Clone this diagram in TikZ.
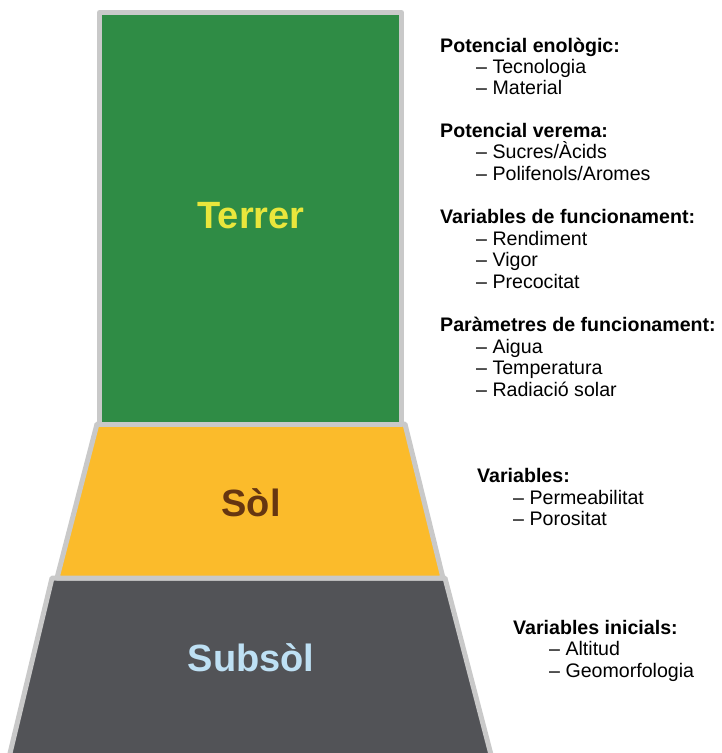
\documentclass[tikz,border=0pt]{standalone}
\usepackage{fontspec}
\setmainfont{Liberation Sans}
\definecolor{terrergreen}{HTML}{2F8C45}
\definecolor{solyellow}{HTML}{FBBB2B}
\definecolor{subsolgray}{HTML}{525357}
\definecolor{edgegray}{HTML}{C9C9C9}
\definecolor{terrertext}{HTML}{E9E63C}
\definecolor{soltext}{HTML}{663611}
\definecolor{subsoltext}{HTML}{BEE0F4}
\tikzset{
  layer/.style={draw=edgegray, line width=5pt, line join=round},
  bigname/.style={font=\fontsize{38}{42}\selectfont\bfseries, anchor=center},
  head/.style={font=\fontsize{19.6}{22}\selectfont\bfseries, anchor=base west, inner sep=0pt},
  item/.style={font=\fontsize{19.6}{22}\selectfont, anchor=base west, inner sep=0pt},
}
\begin{document}
\begin{tikzpicture}[x=1pt,y=-1pt]
\useasboundingbox (0,0) rectangle (721,753);
\begin{scope}
\clip (0,0) rectangle (721,753);
% bottom layer
\draw[layer, fill=subsolgray] (52,578) -- (445,578) -- (495,770) -- (6,770) -- cycle;
% middle layer
\draw[layer, fill=solyellow] (97,424) -- (405,424) -- (443,578) -- (57,578) -- cycle;
% top layer
\draw[layer, fill=terrergreen] (99.5,12.5) rectangle (401.5,424);
\end{scope}

\node[bigname, text=terrertext] (terrer) at (251,216) {Terrer};
\node[bigname, text=soltext] (sol) at (251,503) {Sòl};
\node[bigname, text=subsoltext] (subsol) at (251,658) {Subsòl};

% Terrer factors
\node[head] (h1) at (440,52) {Potencial enològic:};
\node[item] (h1a) at (476,73) {– Tecnologia};
\node[item] (h1b) at (476,94.5) {– Material};

\node[head] (h2) at (440,137) {Potencial verema:};
\node[item] (h2a) at (476,158.5) {– Sucres/Àcids};
\node[item] (h2b) at (476,180) {– Polifenols/Aromes};

\node[head] (h3) at (440,223) {Variables de funcionament:};
\node[item] (h3a) at (476,245) {– Rendiment};
\node[item] (h3b) at (476,266.5) {– Vigor};
\node[item] (h3c) at (476,288) {– Precocitat};

\node[head] (h4) at (440,331) {Paràmetres de funcionament:};
\node[item] (h4a) at (476,353) {– Aigua};
\node[item] (h4b) at (476,374.5) {– Temperatura};
\node[item] (h4c) at (476,396) {– Radiació solar};

% Sol factors
\node[head] (h5) at (477,482) {Variables:};
\node[item] (h5a) at (513,504) {– Permeabilitat};
\node[item] (h5b) at (513,525.5) {– Porositat};

% Subsol factors
\node[head] (h6) at (513,634) {Variables inicials:};
\node[item] (h6a) at (549,655.5) {– Altitud};
\node[item] (h6b) at (549,677) {– Geomorfologia};
\end{tikzpicture}
\end{document}
